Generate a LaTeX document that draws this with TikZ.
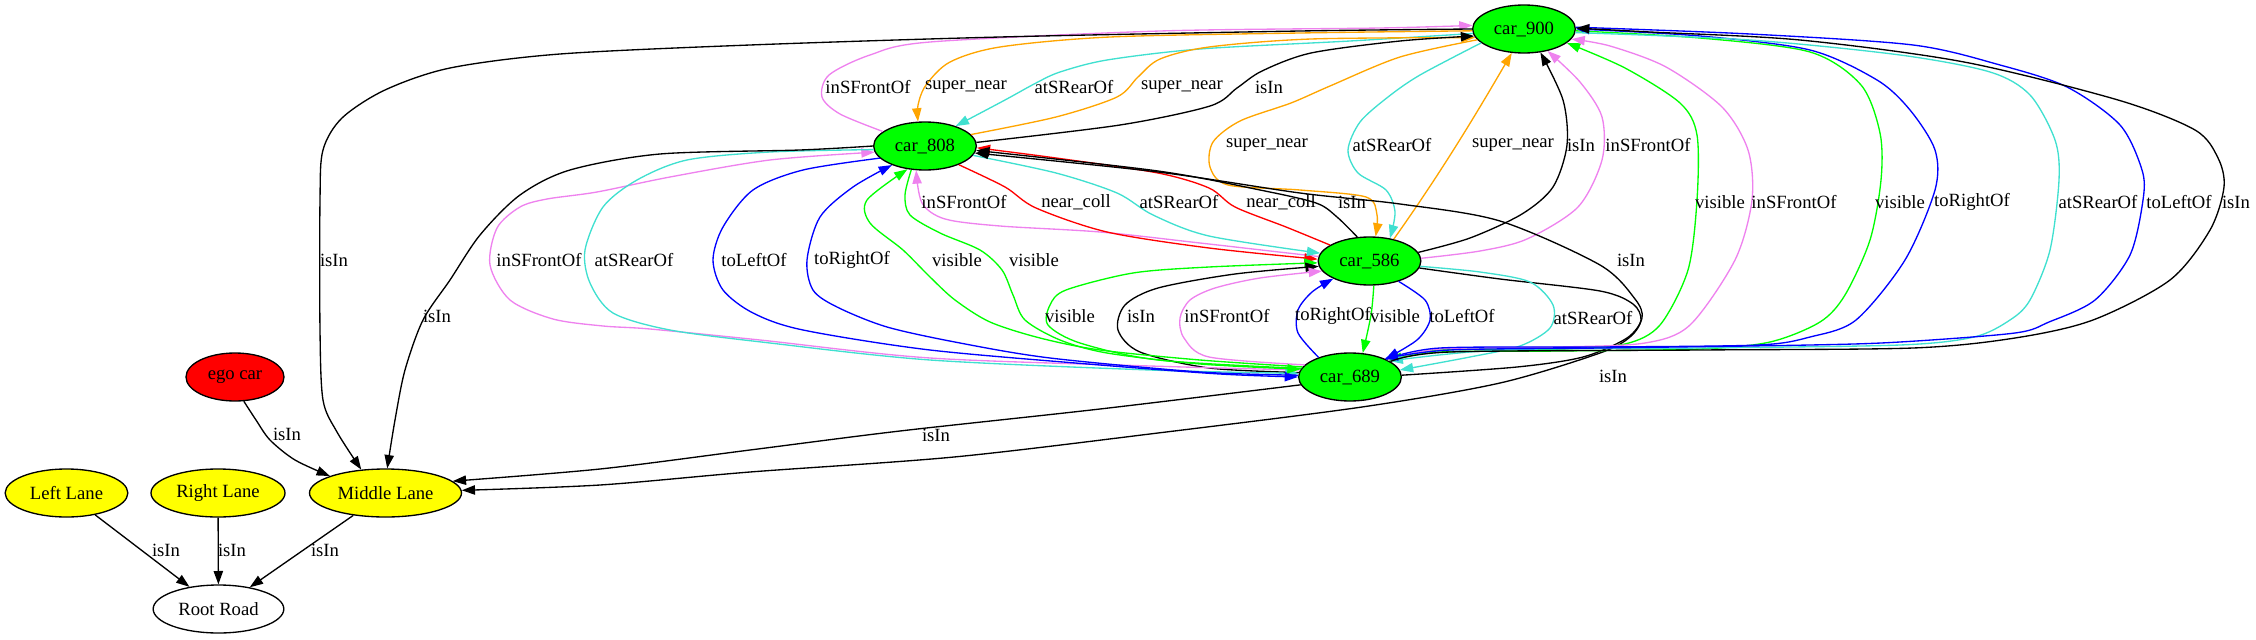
\documentclass[tikz,border=0pt]{standalone}
\usepackage{fontspec}
\setmainfont{Liberation Serif}
\usetikzlibrary{shapes.geometric,arrows.meta}
\definecolor{gvgreen}{HTML}{00FF00}
\definecolor{gvviolet}{HTML}{EE82EE}
\definecolor{gvturq}{HTML}{40E0D0}
\definecolor{gvorange}{HTML}{FFA500}
\definecolor{gvblue}{HTML}{0000FF}
\definecolor{gvred}{HTML}{FF0000}
\definecolor{gvyellow}{HTML}{FFFF00}
\newcommand{\gvf}{\fontsize{14pt}{16pt}\selectfont}
\tikzset{
  gvnode/.style={ellipse, draw=black, line width=1pt, inner sep=0pt, minimum height=36pt, font=\gvf},
  carnode/.style={gvnode, fill=gvgreen, minimum width=77pt},
  lanenode/.style={gvnode, fill=gvyellow},
  rel/.style={line width=1pt, -{Triangle[length=10pt,width=7pt]}},
  elabel/.style={font=\gvf, inner sep=0pt},
}
\begin{document}
\begin{tikzpicture}[x=0.75pt,y=-0.75pt]
\useasboundingbox (0,0) rectangle (2256,639);
% nodes
\node[carnode] (c900) at (1524,29) {car\_900};
\node[carnode] (c808) at (925,146) {car\_808};
\node[carnode] (c586) at (1369.5,261) {car\_586};
\node[carnode] (c689) at (1350,377) {car\_689};
\node[gvnode, fill=gvred, minimum width=73.5pt] (ego) at (235,377) {ego car};
\node[lanenode, minimum width=92pt] (ll) at (66.5,493) {Left Lane};
\node[lanenode, minimum width=100.5pt] (rl) at (218,493) {Right Lane};
\node[lanenode, minimum width=114pt] (ml) at (385.5,493) {Middle Lane};
\node[gvnode, fill=white, minimum width=98pt] (rr) at (218.5,609) {Root Road};

% ---- car_808 <-> car_900
\draw[rel, gvviolet] plot[smooth] coordinates {(c808.161) (840,114) (822,97) (829,75) (870,55) (930,42) (1160,31) (1380,28) (c900.176)};
\draw[rel, gvorange] plot[smooth] coordinates {(c900.182) (1300,33) (1110,37) (1000,47) (950,62) (926,85) (918,105) (c808.106)};
\draw[rel, gvturq] plot[smooth] coordinates {(c900.185) (1350,41) (1200,49) (1107,60) (1060,72) (1036,83) (1005,100) (c808.33)};
\draw[rel, gvorange] plot[smooth] coordinates {(c808.14) (1056,117) (1117,97) (1138,77) (1160,59) (1209,47) (1311,39) (c900.190)};
\draw[rel] plot[smooth] coordinates {(c808.4) (1120,125) (1210,106) (1237,88) (1262,71) (1311,53) (1400,41) (c900.188)};
% car_900 -> Middle Lane
\draw[rel] plot[smooth] coordinates {(c900.180) (1300,31) (1000,37) (750,45) (560,54) (450,68) (385,90) (342,118) (323,150) (320,200) (320,330) (323,400) (337,432) (ml.136)};

% ---- car_900 <-> car_586
\draw[rel, gvorange] plot[smooth] coordinates {(c900.193) (1400,57) (1330,86) (1291,103) (1240,121) (1213,142) (1210,167) (1228,185) (1300,190) (1366,197) (1377,215) (c586.76)};
\draw[rel, gvturq] plot[smooth] coordinates {(c900.198) (1420,75) (1388,97) (1360,122) (1348,150) (1358,173) (1386,190) (1395,212) (c586.48)};
\draw[rel, gvorange] (c586.42) .. controls (1450,160) and (1490,90) .. (c900.243);
\draw[rel] plot[smooth] coordinates {(c586.10) (1470,238) (1522,214) (1553,187) (1567,145) (1563,100) (c900.305)};
\draw[rel, gvviolet] plot[smooth] coordinates {(c586.3) (1480,251) (1527,239) (1578,207) (1602,160) (1602,117) (1580,82) (c900.317)};

% ---- car_808 <-> car_586
\draw[rel, gvviolet] plot[smooth] coordinates {(c586.175) (1200,243) (1100,232) (1000,226) (945,219) (922,203) (c808.250)};
\draw[rel, gvred] plot[smooth] coordinates {(c808.331) (1005,187) (1036,208) (1107,232) (1209,248) (c586.178)};
\draw[rel, gvturq] plot[smooth] coordinates {(c808.349) (1056,173) (1117,193) (1153,215) (1209,236) (c586.171)};
\draw[rel, gvred] plot[smooth] coordinates {(c586.158) (1286,227) (1235,207) (1209,188) (1158,173) (1056,158) (c808.358)};
\draw[rel] plot[smooth] coordinates {(c586.117) (1337,217) (1316,203) (1260,190) (1158,171) (c808.355)};
% car_689 -> car_808 (isIn, around the right)
\draw[rel] plot[smooth] coordinates {(c689.2) (1517,367) (1583,357) (1627,338) (1642,318) (1635,299) (1600,265) (1500,221) (1400,204) (1300,193) (1158,172) (c808.352)};
% car_586 -> Middle Lane
\draw[rel] plot[smooth] coordinates {(c586.352) (1500,279) (1600,291) (1633,304) (1641,320) (1630,337) (1600,353) (1500,383) (1362,407) (1158,433) (954,457) (750,472) (600,485) (ml.2)};
% car_689 -> Middle Lane
\draw[rel] plot[smooth] coordinates {(c689.189) (1100,409) (900,431) (750,450) (600,469) (ml.10)};

% ---- car_689 <-> car_586
\draw[rel, gvgreen] plot[smooth] coordinates {(c689.170) (1158,360) (1080,343) (1048,325) (1050,305) (1066,290) (1133,273) (1209,267) (c586.182)};
\draw[rel] plot[smooth] coordinates {(c689.175) (1209,368) (1140,352) (1118,330) (1125,305) (1158,288) (1235,274) (c586.186)};
\draw[rel, gvviolet] plot[smooth] coordinates {(c689.165) (1209,357) (1184,338) (1180,318) (1190,300) (1215,288) (1260,278) (c586.192)};
\draw[rel, gvblue] plot[smooth] coordinates {(c689.148) (1298,333) (1298,310) (1312,292) (c586.206)};
\draw[rel, gvgreen] plot[smooth] coordinates {(c586.280) (1371,315) (c689.62)};
\draw[rel, gvblue] plot[smooth] coordinates {(c586.325) (1425,300) (1430,320) (1417,340) (c689.27)};
\draw[rel, gvturq] plot[smooth] coordinates {(c586.354) (1480,272) (1530,282) (1553,305) (1550,328) (1520,346) (1470,357) (c689.8)};

% ---- car_808 <-> car_689 (left loops)
\draw[rel, gvviolet] plot[smooth] coordinates {(c689.172) (1150,366) (930,358) (760,340) (650,329) (603,326) (553,319) (510,300) (490,265) (497,228) (520,207) (547,199) (597,192) (670,177) (770,160) (c808.187)};
\draw[rel, gvturq] plot[smooth] coordinates {(c808.184) (770,152) (687,160) (637,180) (603,207) (585,250) (590,283) (613,313) (670,330) (770,343) (930,360) (1150,370) (c689.176)};
\draw[rel, gvblue] plot[smooth] coordinates {(c808.195) (803,170) (753,190) (723,227) (713,260) (723,290) (753,313) (803,330) (930,350) (1100,365) (1220,374) (c689.180)};
\draw[rel, gvblue] plot[smooth] coordinates {(c689.178) (1200,372) (1050,358) (960,343) (887,327) (837,307) (813,290) (807,260) (820,217) (853,187) (c808.210)};
\draw[rel, gvgreen] plot[smooth] coordinates {(c689.168) (1200,360) (1100,350) (1040,338) (990,322) (955,300) (930,277) (903,250) (870,223) (867,200) (c808.233)};
\draw[rel, gvgreen] plot[smooth] coordinates {(c808.240) (905,195) (910,215) (940,233) (980,250) (1002,270) (1013,295) (1025,320) (1060,340) (1107,353) (1200,364) (c689.171)};
% car_808 -> Middle Lane
\draw[rel] plot[smooth] coordinates {(c808.180) (800,150) (660,154) (570,170) (520,195) (480,235) (450,280) (423,320) (405,370) (395,420) (ml.86)};

% ---- car_689 <-> car_900 (long right loops)
\draw[rel, gvgreen] plot[smooth] coordinates {(c689.25) (1440,350) (1560,349) (1625,344) (1660,325) (1688,270) (1697,200) (1697,135) (1680,103) (1625,68) (c900.342)};
\draw[rel, gvviolet] plot[smooth] coordinates {(c689.24) (1440,349) (1560,347) (1645,343) (1690,325) (1735,260) (1752,200) (1748,150) (1722,107) (1666,67) (1610,46) (c900.348)};
\draw[rel, gvgreen] plot[smooth] coordinates {(c900.358) (1700,38) (1810,52) (1861,85) (1880,133) (1881,180) (1870,240) (1845,295) (1820,322) (1770,342) (1700,349) (1560,351) (1440,352) (c689.23)};
\draw[rel, gvblue] plot[smooth] coordinates {(c689.26) (1440,348) (1600,347) (1758,345) (1810,337) (1856,320) (1905,260) (1935,190) (1935,150) (1910,110) (1877,80) (1810,50) (1700,36) (c900.0)};
\draw[rel, gvturq] plot[smooth] coordinates {(c900.356) (1750,40) (1900,55) (1990,72) (2030,95) (2055,140) (2059,180) (2050,250) (2030,300) (2010,320) (1974,337) (1900,345) (1700,348) (1500,350) (c689.22)};
\draw[rel, gvblue] plot[smooth] coordinates {(c900.2) (1750,34) (1913,45) (2000,65) (2067,87) (2120,125) (2142,170) (2143,200) (2130,255) (2095,300) (2049,322) (2015,333) (1900,342) (1810,345) (1600,348) (1450,350) (c689.28)};
\draw[rel] plot[smooth] coordinates {(c689.21) (1450,352) (1700,350) (1913,348) (2015,338) (2093,320) (2170,280) (2210,230) (2224,187) (2218,158) (2195,130) (2118,100) (1964,62) (1800,40) (1650,32) (c900.1)};

% ---- lanes
\draw[rel] plot[smooth] coordinates {(ego.290) (256,420) (270,440) (295,460) (ml.163)};
\draw[rel] (ll) -- (rr);
\draw[rel] (rl) -- (rr);
\draw[rel] (ml) -- (rr);

% ---- labels
\node[elabel] (t01) at (868,87) {inSFrontOf};
\node[elabel] (t02) at (966,87) {super\_near};
\node[elabel] (t03) at (1074,87) {atSRearOf};
\node[elabel] (t04) at (1182,87) {super\_near};
\node[elabel] (t05) at (1269,87) {isIn};
\node[elabel] (t06) at (1267,145) {super\_near};
\node[elabel] (t07) at (1392,145) {atSRearOf};
\node[elabel] (t08) at (1513,145) {super\_near};
\node[elabel] (t09) at (1581,145) {isIn};
\node[elabel] (t10) at (1648,145) {inSFrontOf};
\node[elabel] (t11) at (964,202) {inSFrontOf};
\node[elabel] (t12) at (1076,202) {near\_coll};
\node[elabel] (t13) at (1179,202) {atSRearOf};
\node[elabel] (t14) at (1281,202) {near\_coll};
\node[elabel] (t15) at (1352,202) {isIn};
\node[elabel] (t16) at (1720,202) {visible};
\node[elabel] (t17) at (1794,202) {inSFrontOf};
\node[elabel] (t18) at (1900,202) {visible};
\node[elabel] (t19) at (1972,202) {toRightOf};
\node[elabel] (t20) at (2098,202) {atSRearOf};
\node[elabel] (t21) at (2179,202) {toLeftOf};
\node[elabel] (t22) at (2236,202) {isIn};
\node[elabel] (t23) at (334,260) {isIn};
\node[elabel] (t24) at (539,260) {inSFrontOf};
\node[elabel] (t25) at (634,260) {atSRearOf};
\node[elabel] (t26) at (754,260) {toLeftOf};
\node[elabel] (t27) at (852,260) {toRightOf};
\node[elabel] (t28) at (957,260) {visible};
\node[elabel] (t29) at (1034,260) {visible};
\node[elabel] (t30) at (1631,260) {isIn};
\node[elabel] (t31) at (437,316) {isIn};
\node[elabel] (t32) at (1070,316) {visible};
\node[elabel] (t33) at (1141,316) {isIn};
\node[elabel] (t34) at (1227,316) {inSFrontOf};
\node[elabel] (t35) at (1333,316) {toRightOf};
\node[elabel] (t36) at (1395,316) {visible};
\node[elabel] (t37) at (1462,316) {toLeftOf};
\node[elabel] (t38) at (1593,318) {atSRearOf};
\node[elabel] (t39) at (1613,376) {isIn};
\node[elabel] (t40) at (287,434) {isIn};
\node[elabel] (t41) at (936,435) {isIn};
\node[elabel] (t42) at (166,550) {isIn};
\node[elabel] (t43) at (232,550) {isIn};
\node[elabel] (t44) at (325,550) {isIn};
\end{tikzpicture}
\end{document}
